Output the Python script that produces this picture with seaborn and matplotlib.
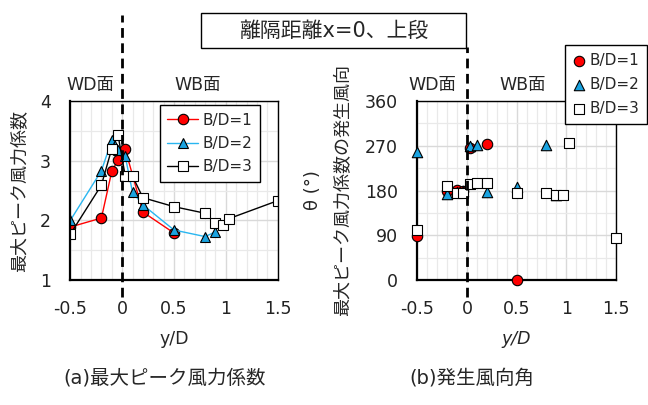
import matplotlib
matplotlib.use("Agg")
import matplotlib.pyplot as plt
from matplotlib.patches import Rectangle
from matplotlib.ticker import MultipleLocator
import seaborn as sns
import pandas as pd

# ---- data ----
labels = ["B/D=1", "B/D=2", "B/D=3"]

pos1 = [-0.5, -0.2, -0.1, -0.04, 0.03, 0.2, 0.5]
cf1 = [1.89, 2.04, 2.82, 3.01, 3.19, 2.14, 1.79]
th1 = [89, 178, 181, 180, 266, 274, 0]

pos2 = [-0.5, -0.2, -0.1, -0.04, 0.03, 0.1, 0.2, 0.5, 0.8, 0.9]
cf2 = [2.00, 2.83, 3.34, 3.17, 3.07, 2.47, 2.26, 1.84, 1.73, 1.81]
th2 = [257, 172, 176, 178, 270, 272, 176, 187, 272, 170]

pos3 = [-0.5, -0.2, -0.1, -0.04, 0.03, 0.1, 0.2, 0.5, 0.8, 0.9, 0.97, 1.03, 1.5]
cf3 = [1.77, 2.59, 3.20, 3.43, 2.74, 2.74, 2.38, 2.23, 2.12, 1.95, 1.93, 2.03, 2.33]
th3 = [100, 190, 175, 175, 194, 195, 195, 175, 175, 170, 170, 275, 85]

xticks = [-0.5, 0, 0.5, 1, 1.5]
xtick_labels = ["-0.5", "0", "0.5", "1", "1.5"]
cf_ticks = [1, 2, 3, 4]
th_ticks = [0, 90, 180, 270, 360]

title_text = "離隔距離x=0、上段"
cf_label = "最大ピーク風力係数"
th_label = "最大ピーク風力係数の発生風向"
caption_a = "(a)最大ピーク風力係数"
caption_b = "(b)発生風向角"

sns.set_theme(style="white")
plt.rcParams["font.family"] = ["DejaVu Sans", "Noto Sans CJK JP"]

styles = [
    dict(marker="o", mfc="#FF0000", line="#FF0000", ms=7.5),
    dict(marker="^", mfc="#1AA3E0", line="#29B6F0", ms=7.5),
    dict(marker="s", mfc="white", line="#000000", ms=7.5),
]
series = [(pos1, cf1, th1), (pos2, cf2, th2), (pos3, cf3, th3)]

fig = plt.figure(figsize=(6.48, 4.05), dpi=100)
W, H = 648, 405


def px_axes(x0, y0, x1, y1):
    return fig.add_axes([x0 / W, 1 - y1 / H, (x1 - x0) / W, (y1 - y0) / H])


ax1 = px_axes(70.3, 100.7, 277.7, 280.3)
ax2 = px_axes(417.3, 100.7, 616.0, 280.3)

# left: peak force coefficient
for (px, cf, th), st, lab in zip(series, styles, labels):
    df = pd.DataFrame({"y/D": px, "Cf": cf})
    sns.lineplot(data=df, x="y/D", y="Cf", ax=ax1, sort=False, estimator=None,
                 color=st["line"], lw=1.0, marker=st["marker"], ms=st["ms"],
                 mfc=st["mfc"], mec="black", mew=0.8, label=lab)

# right: wind direction at peak
for (px, cf, th), st, lab in zip(series, styles, labels):
    df = pd.DataFrame({"y/D": px, "theta": th})
    sns.scatterplot(data=df, x="y/D", y="theta", ax=ax2, marker=st["marker"],
                    s=st["ms"] ** 2, color=st["mfc"], edgecolor="black",
                    linewidth=0.8, label=lab, zorder=3, clip_on=False)

for ax, yt, ymin, ymax, yminor in [(ax1, cf_ticks, 1, 4, 0.5), (ax2, th_ticks, 0, 360, 45)]:
    ax.set_xlim(-0.5, 1.5)
    ax.set_ylim(ymin, ymax)
    ax.set_xticks(xticks)
    ax.set_xticklabels(xtick_labels)
    ax.set_yticks(yt)
    ax.xaxis.set_minor_locator(MultipleLocator(0.1))
    ax.yaxis.set_minor_locator(MultipleLocator(yminor))
    ax.grid(which="major", color="#D9D9D9", lw=1.0)
    ax.grid(which="minor", color="#E9E9E9", lw=0.9)
    ax.set_axisbelow(True)
    ax.tick_params(which="both", length=0, labelsize=12.5, colors="#222222")
    ax.tick_params(axis="x", pad=14)
    ax.tick_params(axis="y", pad=14)
    for side in ["top", "right"]:
        ax.spines[side].set_linewidth(1.0)
        ax.spines[side].set_color("black")
    for side in ["left", "bottom"]:
        ax.spines[side].set_linewidth(1.6)
        ax.spines[side].set_color("black")
    ax.axvline(0, color="black", lw=2.0, ls=(0, (3.5, 2)), zorder=6, clip_on=False,
               ymin=-0.093, ymax=1.477 if ax is ax1 else 1.30)

ax1.set_xlabel("y/D", fontsize=12.5)
ax2.set_xlabel("y/D", fontsize=12.5, style="italic")
for ax in (ax1, ax2):
    ax.xaxis.label.set_va("center")
    ax.xaxis.set_label_coords(0.5, -0.325)

ax1.set_ylabel(cf_label, fontsize=13, va="center")
ax1.yaxis.set_label_coords(-0.24, 0.5)
ax2.set_ylabel(th_label, fontsize=13, va="center")
ax2.yaxis.set_label_coords(-0.374, 0.5)
ax2.text(-0.525, 0.5, "θ (°)", transform=ax2.transAxes, rotation=90,
         ha="center", va="center", fontsize=13)

# face labels above the plots
ax1.text(-0.31, 1.087, "WD面", transform=ax1.get_xaxis_transform(), ha="center",
         va="center", fontsize=12.5, clip_on=False)
ax1.text(0.724, 1.087, "WB面", transform=ax1.get_xaxis_transform(), ha="center",
         va="center", fontsize=12.5, clip_on=False)
ax2.text(-0.352, 1.087, "WD面", transform=ax2.get_xaxis_transform(), ha="center",
         va="center", fontsize=12.5, clip_on=False)
ax2.text(0.559, 1.087, "WB面", transform=ax2.get_xaxis_transform(), ha="center",
         va="center", fontsize=12.5, clip_on=False)

leg1 = ax1.legend(loc="upper right", bbox_to_anchor=(0.915, 0.976), borderaxespad=0,
                  fontsize=11, frameon=True, fancybox=False, framealpha=1,
                  edgecolor="black", handlelength=2.0, labelspacing=0.55,
                  handletextpad=0.3, borderpad=0.5)
leg1.get_frame().set_linewidth(1.0)

leg2 = ax2.legend(loc="upper right", bbox_to_anchor=(647 / W, 1 - 45 / H),
                  bbox_transform=fig.transFigure, borderaxespad=0,
                  fontsize=11, frameon=True, fancybox=False, framealpha=1,
                  edgecolor="black", handlelength=0.8, labelspacing=0.6,
                  handletextpad=0.3, borderpad=0.5)
leg2.get_frame().set_linewidth(1.0)
leg2.set_zorder(10)

# title box
fig.patches.append(Rectangle((201 / W, 1 - 48 / H), (466 - 201) / W, 35 / H,
                             transform=fig.transFigure, fill=True, fc="white",
                             ec="black", lw=1.0, zorder=5))
fig.text(333.5 / W, 1 - 30.5 / H, title_text, ha="center", va="center",
         fontsize=15, zorder=6)

# captions
fig.text(165 / W, 1 - 378 / H, caption_a, ha="center", va="center", fontsize=14)
fig.text(472 / W, 1 - 378 / H, caption_b, ha="center", va="center", fontsize=14)

fig.savefig("out.png", dpi=100)
